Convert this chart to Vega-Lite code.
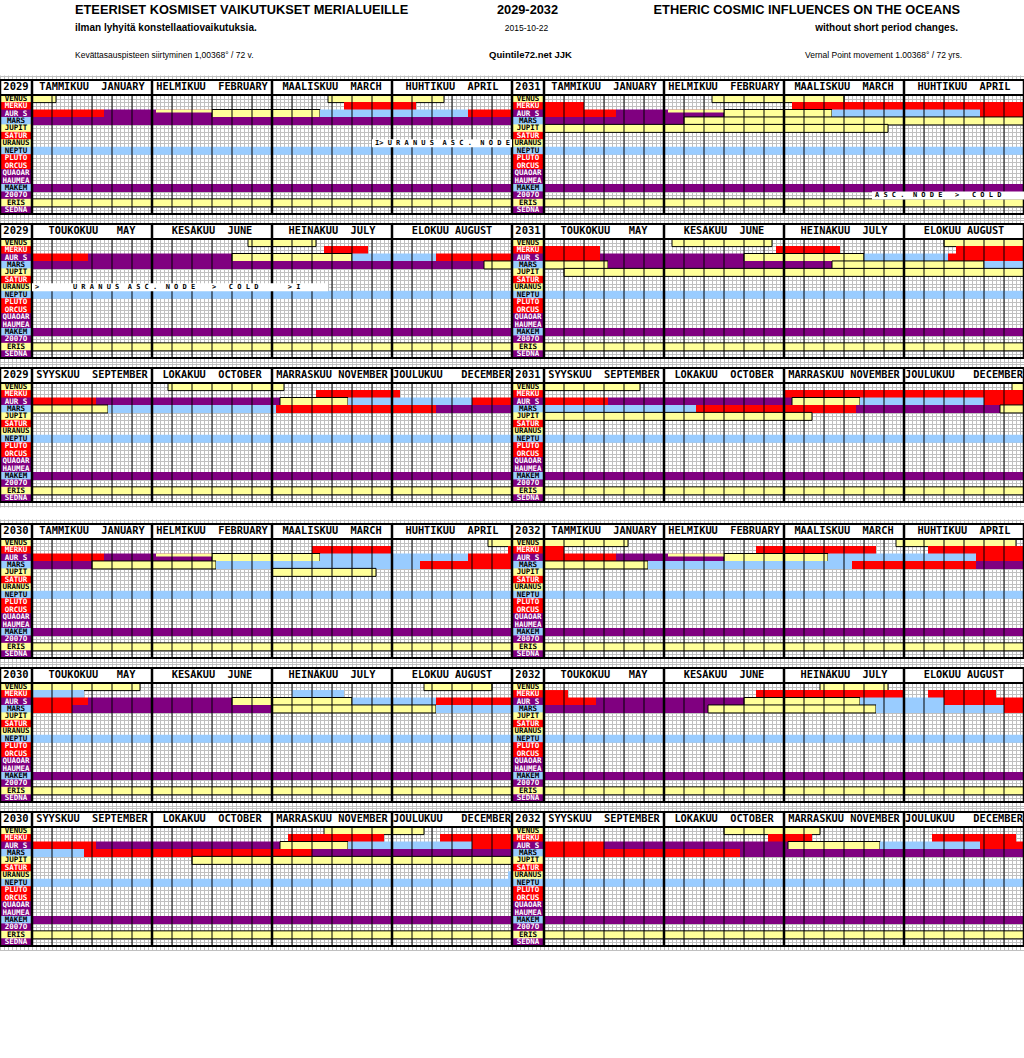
{
"$schema":"https://vega.github.io/schema/vega-lite/v6.json",
"padding":0,"background":"white","bounds":"flush","align":"each","columns":2,"spacing":0,
"datasets":{
"titles":[
{"col":"L","line":1,"txt":"ETEERISET KOSMISET VAIKUTUKSET MERIALUEILLE"},
{"col":"C","line":1,"txt":"2029-2032"},
{"col":"R","line":1,"txt":"ETHERIC COSMIC INFLUENCES ON THE OCEANS"},
{"col":"L","line":2,"txt":"ilman lyhyitä konstellaatiovaikutuksia."},
{"col":"C","line":2,"txt":"2015-10-22"},
{"col":"R","line":2,"txt":"without short period changes."},
{"col":"L","line":3,"txt":"Kevättasauspisteen siirtyminen 1,00368° / 72 v."},
{"col":"C","line":3,"txt":"Quintile72.net  JJK"},
{"col":"R","line":3,"txt":"Vernal Point movement 1.00368° / 72 yrs."}],
"planets":[
{"p":"VENUS","i":0,"k":"Y"},{"p":"MERKURIUS","i":1,"k":"R"},{"p":"AUR SUN","i":2,"k":"P"},{"p":"MARS","i":3,"k":"B"},{"p":"JUPITER","i":4,"k":"Y"},{"p":"SATURNUS","i":5,"k":"R"},{"p":"URANUS","i":6,"k":"Y"},{"p":"NEPTUNUS","i":7,"k":"B"},{"p":"PLUTO","i":8,"k":"R"},{"p":"ORCUS","i":9,"k":"R"},{"p":"QUAOAR","i":10,"k":"P"},{"p":"HAUMEA","i":11,"k":"P"},{"p":"MAKEMAKE","i":12,"k":"B"},{"p":"2007OR10","i":13,"k":"P"},{"p":"ERIS","i":14,"k":"Y"},{"p":"SEDNA","i":15,"k":"P"}],
"months":[
{"t":1,"m":15,"n":"TAMMIKUU\u00a0\u00a0JANUARY"},{"t":1,"m":45,"n":"HELMIKUU\u00a0\u00a0FEBRUARY"},{"t":1,"m":75,"n":"MAALISKUU\u00a0\u00a0MARCH"},{"t":1,"m":105,"n":"HUHTIKUU\u00a0\u00a0APRIL"},
{"t":2,"m":15,"n":"TOUKOKUU\u00a0\u00a0\u00a0MAY"},{"t":2,"m":45,"n":"KESÄKUU\u00a0\u00a0JUNE"},{"t":2,"m":75,"n":"HEINÄKUU\u00a0\u00a0JULY"},{"t":2,"m":105,"n":"ELOKUU\u00a0AUGUST"},
{"t":3,"m":15,"n":"SYYSKUU\u00a0\u00a0SEPTEMBER"},{"t":3,"m":45,"n":"LOKAKUU\u00a0\u00a0OCTOBER"},{"t":3,"m":75,"n":"MARRASKUU\u00a0NOVEMBER"},{"t":3,"m":105,"n":"JOULUKUU\u00a0\u00a0\u00a0DECEMBER"}],
"d5":[{"d":5},{"d":10},{"d":15},{"d":20},{"d":25},{"d":35},{"d":40},{"d":45},{"d":50},{"d":55},{"d":65},{"d":70},{"d":75},{"d":80},{"d":85},{"d":95},{"d":100},{"d":105},{"d":110},{"d":115}],
"vb":[{"d":-8},{"d":0},{"d":30},{"d":60},{"d":90},{"d":120}],
"hb":[{"d":-2.5},{"d":-0.5},{"d":15.5}],
"notes":[
{"yr":2029,"t":1,"p":"URANUS","s":85,"e":120,"txt":"I>\u00a0U\u00a0R\u00a0A\u00a0N\u00a0U\u00a0S\u00a0\u00a0A\u00a0S\u00a0C\u00a0.\u00a0\u00a0N\u00a0O\u00a0D\u00a0E"},
{"yr":2029,"t":2,"p":"URANUS","s":0,"e":74,"txt":"\u00a0\u00a0\u00a0\u00a0\u00a0\u00a0>\u00a0\u00a0\u00a0\u00a0\u00a0\u00a0\u00a0\u00a0U\u00a0R\u00a0A\u00a0N\u00a0U\u00a0S\u00a0\u00a0A\u00a0S\u00a0C\u00a0.\u00a0\u00a0N\u00a0O\u00a0D\u00a0E\u00a0\u00a0\u00a0\u00a0>\u00a0\u00a0\u00a0C\u00a0O\u00a0L\u00a0D\u00a0\u00a0\u00a0\u00a0\u00a0\u00a0\u00a0>\u00a0I"},
{"yr":2031,"t":1,"p":"2007OR10","s":82,"e":120,"txt":"A\u00a0S\u00a0C\u00a0.\u00a0\u00a0N\u00a0O\u00a0D\u00a0E\u00a0\u00a0\u00a0>\u00a0\u00a0\u00a0C\u00a0O\u00a0L\u00a0D"}],
"bars":[
{"yr":2029,"t":1,"p":"VENUS","s":0,"e":6,"c":"Y"},
{"yr":2029,"t":1,"p":"VENUS","s":74,"e":103,"c":"Y"},
{"yr":2029,"t":1,"p":"MERKURIUS","s":78,"e":96,"c":"R"},
{"yr":2029,"t":1,"p":"AUR SUN","s":0,"e":18,"c":"R"},
{"yr":2029,"t":1,"p":"AUR SUN","s":18,"e":45,"c":"P"},
{"yr":2029,"t":1,"p":"AUR SUN","s":31,"e":45,"c":"Y","h":"t"},
{"yr":2029,"t":1,"p":"AUR SUN","s":45,"e":72,"c":"Y"},
{"yr":2029,"t":1,"p":"AUR SUN","s":72,"e":109,"c":"B"},
{"yr":2029,"t":1,"p":"AUR SUN","s":109,"e":120,"c":"R"},
{"yr":2029,"t":1,"p":"MARS","s":0,"e":120,"c":"P"},
{"yr":2029,"t":1,"p":"NEPTUNUS","s":0,"e":120,"c":"B"},
{"yr":2029,"t":1,"p":"MAKEMAKE","s":0,"e":120,"c":"P"},
{"yr":2029,"t":1,"p":"ERIS","s":0,"e":120,"c":"Y"},
{"yr":2029,"t":2,"p":"VENUS","s":54,"e":71,"c":"Y"},
{"yr":2029,"t":2,"p":"MERKURIUS","s":73,"e":84,"c":"R"},
{"yr":2029,"t":2,"p":"AUR SUN","s":0,"e":14,"c":"R"},
{"yr":2029,"t":2,"p":"AUR SUN","s":14,"e":50,"c":"P"},
{"yr":2029,"t":2,"p":"AUR SUN","s":50,"e":80,"c":"Y"},
{"yr":2029,"t":2,"p":"AUR SUN","s":80,"e":101,"c":"B"},
{"yr":2029,"t":2,"p":"AUR SUN","s":101,"e":120,"c":"R"},
{"yr":2029,"t":2,"p":"MARS","s":0,"e":113,"c":"P"},
{"yr":2029,"t":2,"p":"MARS","s":113,"e":120,"c":"Y"},
{"yr":2029,"t":2,"p":"NEPTUNUS","s":0,"e":120,"c":"B"},
{"yr":2029,"t":2,"p":"MAKEMAKE","s":0,"e":120,"c":"P"},
{"yr":2029,"t":2,"p":"ERIS","s":0,"e":120,"c":"Y"},
{"yr":2029,"t":3,"p":"VENUS","s":34,"e":63,"c":"Y"},
{"yr":2029,"t":3,"p":"MERKURIUS","s":71,"e":92,"c":"R"},
{"yr":2029,"t":3,"p":"AUR SUN","s":0,"e":16,"c":"R"},
{"yr":2029,"t":3,"p":"AUR SUN","s":16,"e":62,"c":"P"},
{"yr":2029,"t":3,"p":"AUR SUN","s":62,"e":79,"c":"Y"},
{"yr":2029,"t":3,"p":"AUR SUN","s":79,"e":110,"c":"B"},
{"yr":2029,"t":3,"p":"AUR SUN","s":110,"e":120,"c":"R"},
{"yr":2029,"t":3,"p":"MARS","s":0,"e":19,"c":"Y"},
{"yr":2029,"t":3,"p":"MARS","s":19,"e":61,"c":"B"},
{"yr":2029,"t":3,"p":"MARS","s":61,"e":101,"c":"R"},
{"yr":2029,"t":3,"p":"MARS","s":101,"e":120,"c":"P"},
{"yr":2029,"t":3,"p":"NEPTUNUS","s":0,"e":120,"c":"B"},
{"yr":2029,"t":3,"p":"MAKEMAKE","s":0,"e":120,"c":"P"},
{"yr":2029,"t":3,"p":"ERIS","s":0,"e":120,"c":"Y"},
{"yr":2030,"t":1,"p":"VENUS","s":114,"e":120,"c":"Y"},
{"yr":2030,"t":1,"p":"MERKURIUS","s":70,"e":90,"c":"R"},
{"yr":2030,"t":1,"p":"MERKURIUS","s":119,"e":120,"c":"R"},
{"yr":2030,"t":1,"p":"AUR SUN","s":0,"e":18,"c":"R"},
{"yr":2030,"t":1,"p":"AUR SUN","s":18,"e":45,"c":"P"},
{"yr":2030,"t":1,"p":"AUR SUN","s":31,"e":45,"c":"Y","h":"t"},
{"yr":2030,"t":1,"p":"AUR SUN","s":45,"e":72,"c":"Y"},
{"yr":2030,"t":1,"p":"AUR SUN","s":72,"e":109,"c":"B"},
{"yr":2030,"t":1,"p":"AUR SUN","s":109,"e":120,"c":"R"},
{"yr":2030,"t":1,"p":"MARS","s":0,"e":15,"c":"P"},
{"yr":2030,"t":1,"p":"MARS","s":15,"e":46,"c":"Y"},
{"yr":2030,"t":1,"p":"MARS","s":46,"e":97,"c":"B"},
{"yr":2030,"t":1,"p":"MARS","s":97,"e":120,"c":"R"},
{"yr":2030,"t":1,"p":"JUPITER","s":60,"e":86,"c":"Y"},
{"yr":2030,"t":1,"p":"NEPTUNUS","s":0,"e":120,"c":"B"},
{"yr":2030,"t":1,"p":"MAKEMAKE","s":0,"e":120,"c":"P"},
{"yr":2030,"t":1,"p":"ERIS","s":0,"e":120,"c":"Y"},
{"yr":2030,"t":2,"p":"VENUS","s":0,"e":27,"c":"Y"},
{"yr":2030,"t":2,"p":"VENUS","s":98,"e":115,"c":"Y"},
{"yr":2030,"t":2,"p":"MERKURIUS","s":0,"e":13,"c":"B"},
{"yr":2030,"t":2,"p":"MERKURIUS","s":65,"e":78,"c":"B"},
{"yr":2030,"t":2,"p":"AUR SUN","s":0,"e":14,"c":"R"},
{"yr":2030,"t":2,"p":"AUR SUN","s":14,"e":50,"c":"P"},
{"yr":2030,"t":2,"p":"AUR SUN","s":50,"e":80,"c":"Y"},
{"yr":2030,"t":2,"p":"AUR SUN","s":80,"e":101,"c":"B"},
{"yr":2030,"t":2,"p":"AUR SUN","s":101,"e":120,"c":"R"},
{"yr":2030,"t":2,"p":"MARS","s":0,"e":10,"c":"R"},
{"yr":2030,"t":2,"p":"MARS","s":10,"e":60,"c":"P"},
{"yr":2030,"t":2,"p":"MARS","s":60,"e":101,"c":"Y"},
{"yr":2030,"t":2,"p":"MARS","s":101,"e":120,"c":"B"},
{"yr":2030,"t":2,"p":"NEPTUNUS","s":0,"e":120,"c":"B"},
{"yr":2030,"t":2,"p":"MAKEMAKE","s":0,"e":120,"c":"P"},
{"yr":2030,"t":2,"p":"ERIS","s":0,"e":120,"c":"Y"},
{"yr":2030,"t":3,"p":"VENUS","s":73,"e":98,"c":"Y"},
{"yr":2030,"t":3,"p":"MERKURIUS","s":64,"e":88,"c":"R"},
{"yr":2030,"t":3,"p":"MERKURIUS","s":102,"e":120,"c":"R"},
{"yr":2030,"t":3,"p":"AUR SUN","s":0,"e":16,"c":"R"},
{"yr":2030,"t":3,"p":"AUR SUN","s":16,"e":62,"c":"P"},
{"yr":2030,"t":3,"p":"AUR SUN","s":62,"e":79,"c":"Y"},
{"yr":2030,"t":3,"p":"AUR SUN","s":79,"e":110,"c":"B"},
{"yr":2030,"t":3,"p":"AUR SUN","s":110,"e":120,"c":"R"},
{"yr":2030,"t":3,"p":"MARS","s":0,"e":13,"c":"B"},
{"yr":2030,"t":3,"p":"MARS","s":13,"e":70,"c":"R"},
{"yr":2030,"t":3,"p":"MARS","s":70,"e":120,"c":"P"},
{"yr":2030,"t":3,"p":"JUPITER","s":40,"e":120,"c":"Y"},
{"yr":2030,"t":3,"p":"URANUS","s":119,"e":120,"c":"B"},
{"yr":2030,"t":3,"p":"NEPTUNUS","s":0,"e":120,"c":"B"},
{"yr":2030,"t":3,"p":"MAKEMAKE","s":0,"e":120,"c":"P"},
{"yr":2030,"t":3,"p":"ERIS","s":0,"e":120,"c":"Y"},
{"yr":2031,"t":1,"p":"VENUS","s":42,"e":75,"c":"Y"},
{"yr":2031,"t":1,"p":"MERKURIUS","s":0,"e":10,"c":"R"},
{"yr":2031,"t":1,"p":"MERKURIUS","s":62,"e":120,"c":"R"},
{"yr":2031,"t":1,"p":"AUR SUN","s":0,"e":18,"c":"R"},
{"yr":2031,"t":1,"p":"AUR SUN","s":18,"e":45,"c":"P"},
{"yr":2031,"t":1,"p":"AUR SUN","s":31,"e":45,"c":"Y","h":"t"},
{"yr":2031,"t":1,"p":"AUR SUN","s":45,"e":72,"c":"Y"},
{"yr":2031,"t":1,"p":"AUR SUN","s":72,"e":109,"c":"B"},
{"yr":2031,"t":1,"p":"AUR SUN","s":109,"e":120,"c":"R"},
{"yr":2031,"t":1,"p":"MARS","s":0,"e":35,"c":"P"},
{"yr":2031,"t":1,"p":"MARS","s":35,"e":120,"c":"Y"},
{"yr":2031,"t":1,"p":"JUPITER","s":0,"e":86,"c":"Y"},
{"yr":2031,"t":1,"p":"NEPTUNUS","s":0,"e":120,"c":"B"},
{"yr":2031,"t":1,"p":"MAKEMAKE","s":0,"e":120,"c":"P"},
{"yr":2031,"t":1,"p":"ERIS","s":0,"e":120,"c":"Y"},
{"yr":2031,"t":2,"p":"VENUS","s":32,"e":57,"c":"Y"},
{"yr":2031,"t":2,"p":"VENUS","s":100,"e":120,"c":"Y"},
{"yr":2031,"t":2,"p":"MERKURIUS","s":0,"e":14,"c":"R"},
{"yr":2031,"t":2,"p":"MERKURIUS","s":58,"e":74,"c":"R"},
{"yr":2031,"t":2,"p":"MERKURIUS","s":103,"e":120,"c":"R"},
{"yr":2031,"t":2,"p":"AUR SUN","s":0,"e":14,"c":"R"},
{"yr":2031,"t":2,"p":"AUR SUN","s":14,"e":50,"c":"P"},
{"yr":2031,"t":2,"p":"AUR SUN","s":50,"e":80,"c":"Y"},
{"yr":2031,"t":2,"p":"AUR SUN","s":80,"e":101,"c":"B"},
{"yr":2031,"t":2,"p":"AUR SUN","s":101,"e":120,"c":"R"},
{"yr":2031,"t":2,"p":"MARS","s":0,"e":16,"c":"Y"},
{"yr":2031,"t":2,"p":"MARS","s":16,"e":72,"c":"P"},
{"yr":2031,"t":2,"p":"MARS","s":72,"e":110,"c":"Y"},
{"yr":2031,"t":2,"p":"MARS","s":110,"e":120,"c":"B"},
{"yr":2031,"t":2,"p":"JUPITER","s":5,"e":120,"c":"Y"},
{"yr":2031,"t":2,"p":"NEPTUNUS","s":0,"e":120,"c":"B"},
{"yr":2031,"t":2,"p":"MAKEMAKE","s":0,"e":120,"c":"P"},
{"yr":2031,"t":2,"p":"ERIS","s":0,"e":120,"c":"Y"},
{"yr":2031,"t":3,"p":"VENUS","s":0,"e":24,"c":"Y"},
{"yr":2031,"t":3,"p":"VENUS","s":117,"e":120,"c":"Y"},
{"yr":2031,"t":3,"p":"MERKURIUS","s":60,"e":120,"c":"R"},
{"yr":2031,"t":3,"p":"AUR SUN","s":0,"e":16,"c":"R"},
{"yr":2031,"t":3,"p":"AUR SUN","s":16,"e":62,"c":"P"},
{"yr":2031,"t":3,"p":"AUR SUN","s":62,"e":79,"c":"Y"},
{"yr":2031,"t":3,"p":"AUR SUN","s":79,"e":110,"c":"B"},
{"yr":2031,"t":3,"p":"AUR SUN","s":110,"e":120,"c":"R"},
{"yr":2031,"t":3,"p":"MARS","s":0,"e":38,"c":"B"},
{"yr":2031,"t":3,"p":"MARS","s":38,"e":78,"c":"R"},
{"yr":2031,"t":3,"p":"MARS","s":78,"e":114,"c":"P"},
{"yr":2031,"t":3,"p":"MARS","s":114,"e":120,"c":"Y"},
{"yr":2031,"t":3,"p":"JUPITER","s":0,"e":67,"c":"Y"},
{"yr":2031,"t":3,"p":"NEPTUNUS","s":0,"e":120,"c":"B"},
{"yr":2031,"t":3,"p":"MAKEMAKE","s":0,"e":120,"c":"P"},
{"yr":2031,"t":3,"p":"ERIS","s":0,"e":120,"c":"Y"},
{"yr":2032,"t":1,"p":"VENUS","s":0,"e":21,"c":"Y"},
{"yr":2032,"t":1,"p":"VENUS","s":88,"e":118,"c":"Y"},
{"yr":2032,"t":1,"p":"MERKURIUS","s":0,"e":5,"c":"R"},
{"yr":2032,"t":1,"p":"MERKURIUS","s":53,"e":83,"c":"R"},
{"yr":2032,"t":1,"p":"MERKURIUS","s":96,"e":120,"c":"R"},
{"yr":2032,"t":1,"p":"AUR SUN","s":0,"e":18,"c":"R"},
{"yr":2032,"t":1,"p":"AUR SUN","s":18,"e":45,"c":"P"},
{"yr":2032,"t":1,"p":"AUR SUN","s":31,"e":45,"c":"Y","h":"t"},
{"yr":2032,"t":1,"p":"AUR SUN","s":45,"e":71,"c":"Y"},
{"yr":2032,"t":1,"p":"AUR SUN","s":71,"e":108,"c":"B"},
{"yr":2032,"t":1,"p":"AUR SUN","s":108,"e":120,"c":"R"},
{"yr":2032,"t":1,"p":"MARS","s":0,"e":26,"c":"Y"},
{"yr":2032,"t":1,"p":"MARS","s":26,"e":77,"c":"B"},
{"yr":2032,"t":1,"p":"MARS","s":77,"e":108,"c":"R"},
{"yr":2032,"t":1,"p":"MARS","s":108,"e":120,"c":"P"},
{"yr":2032,"t":1,"p":"NEPTUNUS","s":0,"e":120,"c":"B"},
{"yr":2032,"t":1,"p":"MAKEMAKE","s":0,"e":120,"c":"P"},
{"yr":2032,"t":1,"p":"ERIS","s":0,"e":120,"c":"Y"},
{"yr":2032,"t":2,"p":"VENUS","s":69,"e":86,"c":"Y"},
{"yr":2032,"t":2,"p":"MERKURIUS","s":0,"e":6,"c":"R"},
{"yr":2032,"t":2,"p":"MERKURIUS","s":53,"e":90,"c":"R"},
{"yr":2032,"t":2,"p":"MERKURIUS","s":96,"e":113,"c":"R"},
{"yr":2032,"t":2,"p":"AUR SUN","s":0,"e":13,"c":"R"},
{"yr":2032,"t":2,"p":"AUR SUN","s":13,"e":50,"c":"P"},
{"yr":2032,"t":2,"p":"AUR SUN","s":50,"e":79,"c":"Y"},
{"yr":2032,"t":2,"p":"AUR SUN","s":79,"e":100,"c":"B"},
{"yr":2032,"t":2,"p":"AUR SUN","s":100,"e":120,"c":"R"},
{"yr":2032,"t":2,"p":"MARS","s":0,"e":41,"c":"P"},
{"yr":2032,"t":2,"p":"MARS","s":41,"e":83,"c":"Y"},
{"yr":2032,"t":2,"p":"MARS","s":83,"e":115,"c":"B"},
{"yr":2032,"t":2,"p":"MARS","s":115,"e":120,"c":"R"},
{"yr":2032,"t":2,"p":"NEPTUNUS","s":0,"e":120,"c":"B"},
{"yr":2032,"t":2,"p":"MAKEMAKE","s":0,"e":120,"c":"P"},
{"yr":2032,"t":2,"p":"ERIS","s":0,"e":120,"c":"Y"},
{"yr":2032,"t":3,"p":"VENUS","s":45,"e":69,"c":"Y"},
{"yr":2032,"t":3,"p":"MERKURIUS","s":56,"e":67,"c":"R"},
{"yr":2032,"t":3,"p":"MERKURIUS","s":97,"e":118,"c":"R"},
{"yr":2032,"t":3,"p":"AUR SUN","s":0,"e":15,"c":"R"},
{"yr":2032,"t":3,"p":"AUR SUN","s":15,"e":61,"c":"P"},
{"yr":2032,"t":3,"p":"AUR SUN","s":61,"e":84,"c":"Y"},
{"yr":2032,"t":3,"p":"AUR SUN","s":84,"e":109,"c":"B"},
{"yr":2032,"t":3,"p":"AUR SUN","s":109,"e":120,"c":"R"},
{"yr":2032,"t":3,"p":"MARS","s":0,"e":49,"c":"R"},
{"yr":2032,"t":3,"p":"MARS","s":49,"e":120,"c":"P"},
{"yr":2032,"t":3,"p":"NEPTUNUS","s":0,"e":120,"c":"B"},
{"yr":2032,"t":3,"p":"MAKEMAKE","s":0,"e":120,"c":"P"},
{"yr":2032,"t":3,"p":"ERIS","s":0,"e":120,"c":"Y"}]
},
"concat":[
{"width":512,"height":75,"data":{"name":"titles"},
 "encoding":{"x":{"field":"col","type":"nominal","scale":{"type":"point","domain":["L","C","R"],"range":[75,960],"padding":0},"axis":null},
  "y":{"field":"line","type":"ordinal","scale":{"type":"point","domain":[1,2,3],"range":[9.5,55],"padding":0},"axis":null},
  "text":{"field":"txt"}},
 "layer":[
  {"transform":[{"filter":"datum.line==1&&datum.col=='L'"}],"mark":{"type":"text","align":"left","baseline":"middle","font":"Liberation Sans","fontSize":12.8,"fontWeight":"bold","color":"black"}},
  {"transform":[{"filter":"datum.line==1&&datum.col=='C'"}],"mark":{"type":"text","align":"center","dx":10,"baseline":"middle","font":"Liberation Sans","fontSize":12.8,"fontWeight":"bold","color":"black"}},
  {"transform":[{"filter":"datum.line==1&&datum.col=='R'"}],"mark":{"type":"text","align":"right","baseline":"middle","font":"Liberation Sans","fontSize":12.8,"fontWeight":"bold","color":"black"}},
  {"transform":[{"filter":"datum.line==2&&datum.col=='L'"}],"mark":{"type":"text","align":"left","dy":-4,"baseline":"middle","font":"Liberation Sans","fontSize":10,"fontWeight":"bold","color":"black"}},
  {"transform":[{"filter":"datum.line==2&&datum.col=='C'"}],"mark":{"type":"text","align":"center","dx":9,"dy":-4,"baseline":"middle","font":"Liberation Sans","fontSize":8.5,"color":"black"}},
  {"transform":[{"filter":"datum.line==2&&datum.col=='R'"}],"mark":{"type":"text","align":"right","dx":-2,"dy":-4,"baseline":"middle","font":"Liberation Sans","fontSize":10,"fontWeight":"bold","color":"black"}},
  {"transform":[{"filter":"datum.line==3&&datum.col=='L'"}],"mark":{"type":"text","align":"left","baseline":"middle","font":"Liberation Sans","fontSize":8.5,"color":"black"}},
  {"transform":[{"filter":"datum.line==3&&datum.col=='C'"}],"mark":{"type":"text","align":"center","dx":13,"baseline":"middle","font":"Liberation Sans","fontSize":9.5,"fontWeight":"bold","color":"black"}},
  {"transform":[{"filter":"datum.line==3&&datum.col=='R'"}],"mark":{"type":"text","align":"right","dx":2,"baseline":"middle","font":"Liberation Sans","fontSize":8.5,"color":"black"}}
 ]},
{"width":512,"height":75,"data":{"values":[{}]},"mark":{"type":"text","text":""},"encoding":{}},
{"width":512,"height":144,"layer":[
{"data":{"values":[{}]},"mark":{"type":"rect","fill":"white"},"encoding":{"x":{"datum":-8,"type":"quantitative","scale":{"domain":[-8,120],"nice":false,"zero":false},"axis":{"title":null}},"x2":{"datum":120},"y":{"datum":-2.5,"type":"quantitative","scale":{"domain":[-2.5,15.5],"nice":false,"zero":false,"reverse":true},"axis":{"title":null}},"y2":{"datum":-0.5}}},
{"data":{"name":"bars"},"transform":[{"filter":"datum.yr==2029&&datum.t==1&&!datum.h"},{"lookup":"p","from":{"data":{"name":"planets"},"key":"p","fields":["i"]}}],"mark":{"type":"bar","height":8,"strokeWidth":1},"encoding":{"x":{"field":"s","type":"quantitative"},"x2":{"field":"e"},"y":{"field":"i","type":"quantitative"},"fill":{"field":"c","type":"nominal","scale":{"domain":["Y","R","P","B"],"range":["#ffff99","#ff0000","#800080","#99ccff"]},"legend":null},"stroke":{"condition":{"test":"datum.c=='Y'","value":"black"},"value":"transparent"}}},
{"data":{"name":"bars"},"transform":[{"filter":"datum.yr==2029&&datum.t==1&&datum.h=='t'"},{"lookup":"p","from":{"data":{"name":"planets"},"key":"p","fields":["i"]}}],"mark":{"type":"bar","height":3,"yOffset":-2.5},"encoding":{"x":{"field":"s","type":"quantitative"},"x2":{"field":"e"},"y":{"field":"i","type":"quantitative"},"fill":{"field":"c","type":"nominal","scale":{"domain":["Y","R","P","B"],"range":["#ffff99","#ff0000","#800080","#99ccff"]},"legend":null}}},
{"data":{"name":"planets"},"mark":{"type":"bar","height":8},"encoding":{"x":{"datum":-8,"type":"quantitative"},"x2":{"datum":0},"y":{"field":"i","type":"quantitative"},"fill":{"field":"k","type":"nominal","scale":{"domain":["Y","R","P","B"],"range":["#ffff99","#ff0000","#800080","#99ccff"]},"legend":null}}},
{"data":{"name":"planets"},"mark":{"type":"text","style":"pl"},"encoding":{"x":{"datum":-4,"type":"quantitative"},"y":{"field":"i","type":"quantitative"},"text":{"field":"p"},"fill":{"condition":{"test":"datum.k=='R'||datum.k=='P'","value":"white"},"value":"black"}}},
{"data":{"values":[{}]},"mark":{"type":"text","style":"yr","text":"2029"},"encoding":{"x":{"datum":-4,"type":"quantitative"},"y":{"datum":-1.5,"type":"quantitative"}}},
{"data":{"name":"months"},"transform":[{"filter":"datum.t==1"}],"mark":{"type":"text","style":"mn"},"encoding":{"x":{"field":"m","type":"quantitative"},"y":{"datum":-1.5,"type":"quantitative"},"text":{"field":"n"}}},
{"data":{"name":"d5"},"mark":{"type":"rule","color":"black","strokeWidth":1},"encoding":{"x":{"field":"d","type":"quantitative"},"y":{"datum":-0.5,"type":"quantitative"},"y2":{"datum":15.5}}},
{"data":{"name":"vb"},"mark":{"type":"rule","color":"black","strokeWidth":2.5,"clip":true},"encoding":{"x":{"field":"d","type":"quantitative"},"y":{"datum":-2.5,"type":"quantitative"},"y2":{"datum":15.5}}},
{"data":{"name":"hb"},"mark":{"type":"rule","color":"black","strokeWidth":2,"clip":true},"encoding":{"y":{"field":"d","type":"quantitative"}}},
{"data":{"name":"notes"},"transform":[{"filter":"datum.yr==2029&&datum.t==1"},{"lookup":"p","from":{"data":{"name":"planets"},"key":"p","fields":["i"]}}],"mark":{"type":"bar","height":8,"fill":"white"},"encoding":{"x":{"field":"s","type":"quantitative"},"x2":{"field":"e"},"y":{"field":"i","type":"quantitative"}}},
{"data":{"name":"notes"},"transform":[{"filter":"datum.yr==2029&&datum.t==1"},{"lookup":"p","from":{"data":{"name":"planets"},"key":"p","fields":["i"]}}],"mark":{"type":"text","style":"nt"},"encoding":{"x":{"field":"s","type":"quantitative"},"y":{"field":"i","type":"quantitative"},"text":{"field":"txt"}}}
]},
{"width":512,"height":144,"layer":[
{"data":{"values":[{}]},"mark":{"type":"rect","fill":"white"},"encoding":{"x":{"datum":-8,"type":"quantitative","scale":{"domain":[-8,120],"nice":false,"zero":false},"axis":{"title":null}},"x2":{"datum":120},"y":{"datum":-2.5,"type":"quantitative","scale":{"domain":[-2.5,15.5],"nice":false,"zero":false,"reverse":true},"axis":{"title":null}},"y2":{"datum":-0.5}}},
{"data":{"name":"bars"},"transform":[{"filter":"datum.yr==2031&&datum.t==1&&!datum.h"},{"lookup":"p","from":{"data":{"name":"planets"},"key":"p","fields":["i"]}}],"mark":{"type":"bar","height":8,"strokeWidth":1},"encoding":{"x":{"field":"s","type":"quantitative"},"x2":{"field":"e"},"y":{"field":"i","type":"quantitative"},"fill":{"field":"c","type":"nominal","scale":{"domain":["Y","R","P","B"],"range":["#ffff99","#ff0000","#800080","#99ccff"]},"legend":null},"stroke":{"condition":{"test":"datum.c=='Y'","value":"black"},"value":"transparent"}}},
{"data":{"name":"bars"},"transform":[{"filter":"datum.yr==2031&&datum.t==1&&datum.h=='t'"},{"lookup":"p","from":{"data":{"name":"planets"},"key":"p","fields":["i"]}}],"mark":{"type":"bar","height":3,"yOffset":-2.5},"encoding":{"x":{"field":"s","type":"quantitative"},"x2":{"field":"e"},"y":{"field":"i","type":"quantitative"},"fill":{"field":"c","type":"nominal","scale":{"domain":["Y","R","P","B"],"range":["#ffff99","#ff0000","#800080","#99ccff"]},"legend":null}}},
{"data":{"name":"planets"},"mark":{"type":"bar","height":8},"encoding":{"x":{"datum":-8,"type":"quantitative"},"x2":{"datum":0},"y":{"field":"i","type":"quantitative"},"fill":{"field":"k","type":"nominal","scale":{"domain":["Y","R","P","B"],"range":["#ffff99","#ff0000","#800080","#99ccff"]},"legend":null}}},
{"data":{"name":"planets"},"mark":{"type":"text","style":"pl"},"encoding":{"x":{"datum":-4,"type":"quantitative"},"y":{"field":"i","type":"quantitative"},"text":{"field":"p"},"fill":{"condition":{"test":"datum.k=='R'||datum.k=='P'","value":"white"},"value":"black"}}},
{"data":{"values":[{}]},"mark":{"type":"text","style":"yr","text":"2031"},"encoding":{"x":{"datum":-4,"type":"quantitative"},"y":{"datum":-1.5,"type":"quantitative"}}},
{"data":{"name":"months"},"transform":[{"filter":"datum.t==1"}],"mark":{"type":"text","style":"mn"},"encoding":{"x":{"field":"m","type":"quantitative"},"y":{"datum":-1.5,"type":"quantitative"},"text":{"field":"n"}}},
{"data":{"name":"d5"},"mark":{"type":"rule","color":"black","strokeWidth":1},"encoding":{"x":{"field":"d","type":"quantitative"},"y":{"datum":-0.5,"type":"quantitative"},"y2":{"datum":15.5}}},
{"data":{"name":"vb"},"mark":{"type":"rule","color":"black","strokeWidth":2.5,"clip":true},"encoding":{"x":{"field":"d","type":"quantitative"},"y":{"datum":-2.5,"type":"quantitative"},"y2":{"datum":15.5}}},
{"data":{"name":"hb"},"mark":{"type":"rule","color":"black","strokeWidth":2,"clip":true},"encoding":{"y":{"field":"d","type":"quantitative"}}},
{"data":{"name":"notes"},"transform":[{"filter":"datum.yr==2031&&datum.t==1"},{"lookup":"p","from":{"data":{"name":"planets"},"key":"p","fields":["i"]}}],"mark":{"type":"bar","height":8,"fill":"white"},"encoding":{"x":{"field":"s","type":"quantitative"},"x2":{"field":"e"},"y":{"field":"i","type":"quantitative"}}},
{"data":{"name":"notes"},"transform":[{"filter":"datum.yr==2031&&datum.t==1"},{"lookup":"p","from":{"data":{"name":"planets"},"key":"p","fields":["i"]}}],"mark":{"type":"text","style":"nt"},"encoding":{"x":{"field":"s","type":"quantitative"},"y":{"field":"i","type":"quantitative"},"text":{"field":"txt"}}}
]},
{"width":512,"height":144,"layer":[
{"data":{"values":[{}]},"mark":{"type":"rect","fill":"white"},"encoding":{"x":{"datum":-8,"type":"quantitative","scale":{"domain":[-8,120],"nice":false,"zero":false},"axis":{"title":null}},"x2":{"datum":120},"y":{"datum":-2.5,"type":"quantitative","scale":{"domain":[-2.5,15.5],"nice":false,"zero":false,"reverse":true},"axis":{"title":null}},"y2":{"datum":-0.5}}},
{"data":{"name":"bars"},"transform":[{"filter":"datum.yr==2029&&datum.t==2&&!datum.h"},{"lookup":"p","from":{"data":{"name":"planets"},"key":"p","fields":["i"]}}],"mark":{"type":"bar","height":8,"strokeWidth":1},"encoding":{"x":{"field":"s","type":"quantitative"},"x2":{"field":"e"},"y":{"field":"i","type":"quantitative"},"fill":{"field":"c","type":"nominal","scale":{"domain":["Y","R","P","B"],"range":["#ffff99","#ff0000","#800080","#99ccff"]},"legend":null},"stroke":{"condition":{"test":"datum.c=='Y'","value":"black"},"value":"transparent"}}},
{"data":{"name":"planets"},"mark":{"type":"bar","height":8},"encoding":{"x":{"datum":-8,"type":"quantitative"},"x2":{"datum":0},"y":{"field":"i","type":"quantitative"},"fill":{"field":"k","type":"nominal","scale":{"domain":["Y","R","P","B"],"range":["#ffff99","#ff0000","#800080","#99ccff"]},"legend":null}}},
{"data":{"name":"planets"},"mark":{"type":"text","style":"pl"},"encoding":{"x":{"datum":-4,"type":"quantitative"},"y":{"field":"i","type":"quantitative"},"text":{"field":"p"},"fill":{"condition":{"test":"datum.k=='R'||datum.k=='P'","value":"white"},"value":"black"}}},
{"data":{"values":[{}]},"mark":{"type":"text","style":"yr","text":"2029"},"encoding":{"x":{"datum":-4,"type":"quantitative"},"y":{"datum":-1.5,"type":"quantitative"}}},
{"data":{"name":"months"},"transform":[{"filter":"datum.t==2"}],"mark":{"type":"text","style":"mn"},"encoding":{"x":{"field":"m","type":"quantitative"},"y":{"datum":-1.5,"type":"quantitative"},"text":{"field":"n"}}},
{"data":{"name":"d5"},"mark":{"type":"rule","color":"black","strokeWidth":1},"encoding":{"x":{"field":"d","type":"quantitative"},"y":{"datum":-0.5,"type":"quantitative"},"y2":{"datum":15.5}}},
{"data":{"name":"vb"},"mark":{"type":"rule","color":"black","strokeWidth":2.5,"clip":true},"encoding":{"x":{"field":"d","type":"quantitative"},"y":{"datum":-2.5,"type":"quantitative"},"y2":{"datum":15.5}}},
{"data":{"name":"hb"},"mark":{"type":"rule","color":"black","strokeWidth":2,"clip":true},"encoding":{"y":{"field":"d","type":"quantitative"}}},
{"data":{"name":"notes"},"transform":[{"filter":"datum.yr==2029&&datum.t==2"},{"lookup":"p","from":{"data":{"name":"planets"},"key":"p","fields":["i"]}}],"mark":{"type":"bar","height":8,"fill":"white"},"encoding":{"x":{"field":"s","type":"quantitative"},"x2":{"field":"e"},"y":{"field":"i","type":"quantitative"}}},
{"data":{"name":"notes"},"transform":[{"filter":"datum.yr==2029&&datum.t==2"},{"lookup":"p","from":{"data":{"name":"planets"},"key":"p","fields":["i"]}}],"mark":{"type":"text","style":"nt"},"encoding":{"x":{"field":"s","type":"quantitative"},"y":{"field":"i","type":"quantitative"},"text":{"field":"txt"}}}
]},
{"width":512,"height":144,"layer":[
{"data":{"values":[{}]},"mark":{"type":"rect","fill":"white"},"encoding":{"x":{"datum":-8,"type":"quantitative","scale":{"domain":[-8,120],"nice":false,"zero":false},"axis":{"title":null}},"x2":{"datum":120},"y":{"datum":-2.5,"type":"quantitative","scale":{"domain":[-2.5,15.5],"nice":false,"zero":false,"reverse":true},"axis":{"title":null}},"y2":{"datum":-0.5}}},
{"data":{"name":"bars"},"transform":[{"filter":"datum.yr==2031&&datum.t==2&&!datum.h"},{"lookup":"p","from":{"data":{"name":"planets"},"key":"p","fields":["i"]}}],"mark":{"type":"bar","height":8,"strokeWidth":1},"encoding":{"x":{"field":"s","type":"quantitative"},"x2":{"field":"e"},"y":{"field":"i","type":"quantitative"},"fill":{"field":"c","type":"nominal","scale":{"domain":["Y","R","P","B"],"range":["#ffff99","#ff0000","#800080","#99ccff"]},"legend":null},"stroke":{"condition":{"test":"datum.c=='Y'","value":"black"},"value":"transparent"}}},
{"data":{"name":"planets"},"mark":{"type":"bar","height":8},"encoding":{"x":{"datum":-8,"type":"quantitative"},"x2":{"datum":0},"y":{"field":"i","type":"quantitative"},"fill":{"field":"k","type":"nominal","scale":{"domain":["Y","R","P","B"],"range":["#ffff99","#ff0000","#800080","#99ccff"]},"legend":null}}},
{"data":{"name":"planets"},"mark":{"type":"text","style":"pl"},"encoding":{"x":{"datum":-4,"type":"quantitative"},"y":{"field":"i","type":"quantitative"},"text":{"field":"p"},"fill":{"condition":{"test":"datum.k=='R'||datum.k=='P'","value":"white"},"value":"black"}}},
{"data":{"values":[{}]},"mark":{"type":"text","style":"yr","text":"2031"},"encoding":{"x":{"datum":-4,"type":"quantitative"},"y":{"datum":-1.5,"type":"quantitative"}}},
{"data":{"name":"months"},"transform":[{"filter":"datum.t==2"}],"mark":{"type":"text","style":"mn"},"encoding":{"x":{"field":"m","type":"quantitative"},"y":{"datum":-1.5,"type":"quantitative"},"text":{"field":"n"}}},
{"data":{"name":"d5"},"mark":{"type":"rule","color":"black","strokeWidth":1},"encoding":{"x":{"field":"d","type":"quantitative"},"y":{"datum":-0.5,"type":"quantitative"},"y2":{"datum":15.5}}},
{"data":{"name":"vb"},"mark":{"type":"rule","color":"black","strokeWidth":2.5,"clip":true},"encoding":{"x":{"field":"d","type":"quantitative"},"y":{"datum":-2.5,"type":"quantitative"},"y2":{"datum":15.5}}},
{"data":{"name":"hb"},"mark":{"type":"rule","color":"black","strokeWidth":2,"clip":true},"encoding":{"y":{"field":"d","type":"quantitative"}}}
]},
{"width":512,"height":144,"layer":[
{"data":{"values":[{}]},"mark":{"type":"rect","fill":"white"},"encoding":{"x":{"datum":-8,"type":"quantitative","scale":{"domain":[-8,120],"nice":false,"zero":false},"axis":{"title":null}},"x2":{"datum":120},"y":{"datum":-2.5,"type":"quantitative","scale":{"domain":[-2.5,15.5],"nice":false,"zero":false,"reverse":true},"axis":{"title":null}},"y2":{"datum":-0.5}}},
{"data":{"name":"bars"},"transform":[{"filter":"datum.yr==2029&&datum.t==3&&!datum.h"},{"lookup":"p","from":{"data":{"name":"planets"},"key":"p","fields":["i"]}}],"mark":{"type":"bar","height":8,"strokeWidth":1},"encoding":{"x":{"field":"s","type":"quantitative"},"x2":{"field":"e"},"y":{"field":"i","type":"quantitative"},"fill":{"field":"c","type":"nominal","scale":{"domain":["Y","R","P","B"],"range":["#ffff99","#ff0000","#800080","#99ccff"]},"legend":null},"stroke":{"condition":{"test":"datum.c=='Y'","value":"black"},"value":"transparent"}}},
{"data":{"name":"planets"},"mark":{"type":"bar","height":8},"encoding":{"x":{"datum":-8,"type":"quantitative"},"x2":{"datum":0},"y":{"field":"i","type":"quantitative"},"fill":{"field":"k","type":"nominal","scale":{"domain":["Y","R","P","B"],"range":["#ffff99","#ff0000","#800080","#99ccff"]},"legend":null}}},
{"data":{"name":"planets"},"mark":{"type":"text","style":"pl"},"encoding":{"x":{"datum":-4,"type":"quantitative"},"y":{"field":"i","type":"quantitative"},"text":{"field":"p"},"fill":{"condition":{"test":"datum.k=='R'||datum.k=='P'","value":"white"},"value":"black"}}},
{"data":{"values":[{}]},"mark":{"type":"text","style":"yr","text":"2029"},"encoding":{"x":{"datum":-4,"type":"quantitative"},"y":{"datum":-1.5,"type":"quantitative"}}},
{"data":{"name":"months"},"transform":[{"filter":"datum.t==3"}],"mark":{"type":"text","style":"mn"},"encoding":{"x":{"field":"m","type":"quantitative"},"y":{"datum":-1.5,"type":"quantitative"},"text":{"field":"n"}}},
{"data":{"name":"d5"},"mark":{"type":"rule","color":"black","strokeWidth":1},"encoding":{"x":{"field":"d","type":"quantitative"},"y":{"datum":-0.5,"type":"quantitative"},"y2":{"datum":15.5}}},
{"data":{"name":"vb"},"mark":{"type":"rule","color":"black","strokeWidth":2.5,"clip":true},"encoding":{"x":{"field":"d","type":"quantitative"},"y":{"datum":-2.5,"type":"quantitative"},"y2":{"datum":15.5}}},
{"data":{"name":"hb"},"mark":{"type":"rule","color":"black","strokeWidth":2,"clip":true},"encoding":{"y":{"field":"d","type":"quantitative"}}}
]},
{"width":512,"height":144,"layer":[
{"data":{"values":[{}]},"mark":{"type":"rect","fill":"white"},"encoding":{"x":{"datum":-8,"type":"quantitative","scale":{"domain":[-8,120],"nice":false,"zero":false},"axis":{"title":null}},"x2":{"datum":120},"y":{"datum":-2.5,"type":"quantitative","scale":{"domain":[-2.5,15.5],"nice":false,"zero":false,"reverse":true},"axis":{"title":null}},"y2":{"datum":-0.5}}},
{"data":{"name":"bars"},"transform":[{"filter":"datum.yr==2031&&datum.t==3&&!datum.h"},{"lookup":"p","from":{"data":{"name":"planets"},"key":"p","fields":["i"]}}],"mark":{"type":"bar","height":8,"strokeWidth":1},"encoding":{"x":{"field":"s","type":"quantitative"},"x2":{"field":"e"},"y":{"field":"i","type":"quantitative"},"fill":{"field":"c","type":"nominal","scale":{"domain":["Y","R","P","B"],"range":["#ffff99","#ff0000","#800080","#99ccff"]},"legend":null},"stroke":{"condition":{"test":"datum.c=='Y'","value":"black"},"value":"transparent"}}},
{"data":{"name":"planets"},"mark":{"type":"bar","height":8},"encoding":{"x":{"datum":-8,"type":"quantitative"},"x2":{"datum":0},"y":{"field":"i","type":"quantitative"},"fill":{"field":"k","type":"nominal","scale":{"domain":["Y","R","P","B"],"range":["#ffff99","#ff0000","#800080","#99ccff"]},"legend":null}}},
{"data":{"name":"planets"},"mark":{"type":"text","style":"pl"},"encoding":{"x":{"datum":-4,"type":"quantitative"},"y":{"field":"i","type":"quantitative"},"text":{"field":"p"},"fill":{"condition":{"test":"datum.k=='R'||datum.k=='P'","value":"white"},"value":"black"}}},
{"data":{"values":[{}]},"mark":{"type":"text","style":"yr","text":"2031"},"encoding":{"x":{"datum":-4,"type":"quantitative"},"y":{"datum":-1.5,"type":"quantitative"}}},
{"data":{"name":"months"},"transform":[{"filter":"datum.t==3"}],"mark":{"type":"text","style":"mn"},"encoding":{"x":{"field":"m","type":"quantitative"},"y":{"datum":-1.5,"type":"quantitative"},"text":{"field":"n"}}},
{"data":{"name":"d5"},"mark":{"type":"rule","color":"black","strokeWidth":1},"encoding":{"x":{"field":"d","type":"quantitative"},"y":{"datum":-0.5,"type":"quantitative"},"y2":{"datum":15.5}}},
{"data":{"name":"vb"},"mark":{"type":"rule","color":"black","strokeWidth":2.5,"clip":true},"encoding":{"x":{"field":"d","type":"quantitative"},"y":{"datum":-2.5,"type":"quantitative"},"y2":{"datum":15.5}}},
{"data":{"name":"hb"},"mark":{"type":"rule","color":"black","strokeWidth":2,"clip":true},"encoding":{"y":{"field":"d","type":"quantitative"}}}
]},
{"width":512,"height":11.5,"data":{"values":[{}]},"mark":{"type":"text","text":""},"encoding":{}},
{"width":512,"height":11.5,"data":{"values":[{}]},"mark":{"type":"text","text":""},"encoding":{}},
{"width":512,"height":144,"layer":[
{"data":{"values":[{}]},"mark":{"type":"rect","fill":"white"},"encoding":{"x":{"datum":-8,"type":"quantitative","scale":{"domain":[-8,120],"nice":false,"zero":false},"axis":{"title":null}},"x2":{"datum":120},"y":{"datum":-2.5,"type":"quantitative","scale":{"domain":[-2.5,15.5],"nice":false,"zero":false,"reverse":true},"axis":{"title":null}},"y2":{"datum":-0.5}}},
{"data":{"name":"bars"},"transform":[{"filter":"datum.yr==2030&&datum.t==1&&!datum.h"},{"lookup":"p","from":{"data":{"name":"planets"},"key":"p","fields":["i"]}}],"mark":{"type":"bar","height":8,"strokeWidth":1},"encoding":{"x":{"field":"s","type":"quantitative"},"x2":{"field":"e"},"y":{"field":"i","type":"quantitative"},"fill":{"field":"c","type":"nominal","scale":{"domain":["Y","R","P","B"],"range":["#ffff99","#ff0000","#800080","#99ccff"]},"legend":null},"stroke":{"condition":{"test":"datum.c=='Y'","value":"black"},"value":"transparent"}}},
{"data":{"name":"bars"},"transform":[{"filter":"datum.yr==2030&&datum.t==1&&datum.h=='t'"},{"lookup":"p","from":{"data":{"name":"planets"},"key":"p","fields":["i"]}}],"mark":{"type":"bar","height":3,"yOffset":-2.5},"encoding":{"x":{"field":"s","type":"quantitative"},"x2":{"field":"e"},"y":{"field":"i","type":"quantitative"},"fill":{"field":"c","type":"nominal","scale":{"domain":["Y","R","P","B"],"range":["#ffff99","#ff0000","#800080","#99ccff"]},"legend":null}}},
{"data":{"name":"planets"},"mark":{"type":"bar","height":8},"encoding":{"x":{"datum":-8,"type":"quantitative"},"x2":{"datum":0},"y":{"field":"i","type":"quantitative"},"fill":{"field":"k","type":"nominal","scale":{"domain":["Y","R","P","B"],"range":["#ffff99","#ff0000","#800080","#99ccff"]},"legend":null}}},
{"data":{"name":"planets"},"mark":{"type":"text","style":"pl"},"encoding":{"x":{"datum":-4,"type":"quantitative"},"y":{"field":"i","type":"quantitative"},"text":{"field":"p"},"fill":{"condition":{"test":"datum.k=='R'||datum.k=='P'","value":"white"},"value":"black"}}},
{"data":{"values":[{}]},"mark":{"type":"text","style":"yr","text":"2030"},"encoding":{"x":{"datum":-4,"type":"quantitative"},"y":{"datum":-1.5,"type":"quantitative"}}},
{"data":{"name":"months"},"transform":[{"filter":"datum.t==1"}],"mark":{"type":"text","style":"mn"},"encoding":{"x":{"field":"m","type":"quantitative"},"y":{"datum":-1.5,"type":"quantitative"},"text":{"field":"n"}}},
{"data":{"name":"d5"},"mark":{"type":"rule","color":"black","strokeWidth":1},"encoding":{"x":{"field":"d","type":"quantitative"},"y":{"datum":-0.5,"type":"quantitative"},"y2":{"datum":15.5}}},
{"data":{"name":"vb"},"mark":{"type":"rule","color":"black","strokeWidth":2.5,"clip":true},"encoding":{"x":{"field":"d","type":"quantitative"},"y":{"datum":-2.5,"type":"quantitative"},"y2":{"datum":15.5}}},
{"data":{"name":"hb"},"mark":{"type":"rule","color":"black","strokeWidth":2,"clip":true},"encoding":{"y":{"field":"d","type":"quantitative"}}}
]},
{"width":512,"height":144,"layer":[
{"data":{"values":[{}]},"mark":{"type":"rect","fill":"white"},"encoding":{"x":{"datum":-8,"type":"quantitative","scale":{"domain":[-8,120],"nice":false,"zero":false},"axis":{"title":null}},"x2":{"datum":120},"y":{"datum":-2.5,"type":"quantitative","scale":{"domain":[-2.5,15.5],"nice":false,"zero":false,"reverse":true},"axis":{"title":null}},"y2":{"datum":-0.5}}},
{"data":{"name":"bars"},"transform":[{"filter":"datum.yr==2032&&datum.t==1&&!datum.h"},{"lookup":"p","from":{"data":{"name":"planets"},"key":"p","fields":["i"]}}],"mark":{"type":"bar","height":8,"strokeWidth":1},"encoding":{"x":{"field":"s","type":"quantitative"},"x2":{"field":"e"},"y":{"field":"i","type":"quantitative"},"fill":{"field":"c","type":"nominal","scale":{"domain":["Y","R","P","B"],"range":["#ffff99","#ff0000","#800080","#99ccff"]},"legend":null},"stroke":{"condition":{"test":"datum.c=='Y'","value":"black"},"value":"transparent"}}},
{"data":{"name":"bars"},"transform":[{"filter":"datum.yr==2032&&datum.t==1&&datum.h=='t'"},{"lookup":"p","from":{"data":{"name":"planets"},"key":"p","fields":["i"]}}],"mark":{"type":"bar","height":3,"yOffset":-2.5},"encoding":{"x":{"field":"s","type":"quantitative"},"x2":{"field":"e"},"y":{"field":"i","type":"quantitative"},"fill":{"field":"c","type":"nominal","scale":{"domain":["Y","R","P","B"],"range":["#ffff99","#ff0000","#800080","#99ccff"]},"legend":null}}},
{"data":{"name":"planets"},"mark":{"type":"bar","height":8},"encoding":{"x":{"datum":-8,"type":"quantitative"},"x2":{"datum":0},"y":{"field":"i","type":"quantitative"},"fill":{"field":"k","type":"nominal","scale":{"domain":["Y","R","P","B"],"range":["#ffff99","#ff0000","#800080","#99ccff"]},"legend":null}}},
{"data":{"name":"planets"},"mark":{"type":"text","style":"pl"},"encoding":{"x":{"datum":-4,"type":"quantitative"},"y":{"field":"i","type":"quantitative"},"text":{"field":"p"},"fill":{"condition":{"test":"datum.k=='R'||datum.k=='P'","value":"white"},"value":"black"}}},
{"data":{"values":[{}]},"mark":{"type":"text","style":"yr","text":"2032"},"encoding":{"x":{"datum":-4,"type":"quantitative"},"y":{"datum":-1.5,"type":"quantitative"}}},
{"data":{"name":"months"},"transform":[{"filter":"datum.t==1"}],"mark":{"type":"text","style":"mn"},"encoding":{"x":{"field":"m","type":"quantitative"},"y":{"datum":-1.5,"type":"quantitative"},"text":{"field":"n"}}},
{"data":{"name":"d5"},"mark":{"type":"rule","color":"black","strokeWidth":1},"encoding":{"x":{"field":"d","type":"quantitative"},"y":{"datum":-0.5,"type":"quantitative"},"y2":{"datum":15.5}}},
{"data":{"name":"vb"},"mark":{"type":"rule","color":"black","strokeWidth":2.5,"clip":true},"encoding":{"x":{"field":"d","type":"quantitative"},"y":{"datum":-2.5,"type":"quantitative"},"y2":{"datum":15.5}}},
{"data":{"name":"hb"},"mark":{"type":"rule","color":"black","strokeWidth":2,"clip":true},"encoding":{"y":{"field":"d","type":"quantitative"}}}
]},
{"width":512,"height":144,"layer":[
{"data":{"values":[{}]},"mark":{"type":"rect","fill":"white"},"encoding":{"x":{"datum":-8,"type":"quantitative","scale":{"domain":[-8,120],"nice":false,"zero":false},"axis":{"title":null}},"x2":{"datum":120},"y":{"datum":-2.5,"type":"quantitative","scale":{"domain":[-2.5,15.5],"nice":false,"zero":false,"reverse":true},"axis":{"title":null}},"y2":{"datum":-0.5}}},
{"data":{"name":"bars"},"transform":[{"filter":"datum.yr==2030&&datum.t==2&&!datum.h"},{"lookup":"p","from":{"data":{"name":"planets"},"key":"p","fields":["i"]}}],"mark":{"type":"bar","height":8,"strokeWidth":1},"encoding":{"x":{"field":"s","type":"quantitative"},"x2":{"field":"e"},"y":{"field":"i","type":"quantitative"},"fill":{"field":"c","type":"nominal","scale":{"domain":["Y","R","P","B"],"range":["#ffff99","#ff0000","#800080","#99ccff"]},"legend":null},"stroke":{"condition":{"test":"datum.c=='Y'","value":"black"},"value":"transparent"}}},
{"data":{"name":"planets"},"mark":{"type":"bar","height":8},"encoding":{"x":{"datum":-8,"type":"quantitative"},"x2":{"datum":0},"y":{"field":"i","type":"quantitative"},"fill":{"field":"k","type":"nominal","scale":{"domain":["Y","R","P","B"],"range":["#ffff99","#ff0000","#800080","#99ccff"]},"legend":null}}},
{"data":{"name":"planets"},"mark":{"type":"text","style":"pl"},"encoding":{"x":{"datum":-4,"type":"quantitative"},"y":{"field":"i","type":"quantitative"},"text":{"field":"p"},"fill":{"condition":{"test":"datum.k=='R'||datum.k=='P'","value":"white"},"value":"black"}}},
{"data":{"values":[{}]},"mark":{"type":"text","style":"yr","text":"2030"},"encoding":{"x":{"datum":-4,"type":"quantitative"},"y":{"datum":-1.5,"type":"quantitative"}}},
{"data":{"name":"months"},"transform":[{"filter":"datum.t==2"}],"mark":{"type":"text","style":"mn"},"encoding":{"x":{"field":"m","type":"quantitative"},"y":{"datum":-1.5,"type":"quantitative"},"text":{"field":"n"}}},
{"data":{"name":"d5"},"mark":{"type":"rule","color":"black","strokeWidth":1},"encoding":{"x":{"field":"d","type":"quantitative"},"y":{"datum":-0.5,"type":"quantitative"},"y2":{"datum":15.5}}},
{"data":{"name":"vb"},"mark":{"type":"rule","color":"black","strokeWidth":2.5,"clip":true},"encoding":{"x":{"field":"d","type":"quantitative"},"y":{"datum":-2.5,"type":"quantitative"},"y2":{"datum":15.5}}},
{"data":{"name":"hb"},"mark":{"type":"rule","color":"black","strokeWidth":2,"clip":true},"encoding":{"y":{"field":"d","type":"quantitative"}}}
]},
{"width":512,"height":144,"layer":[
{"data":{"values":[{}]},"mark":{"type":"rect","fill":"white"},"encoding":{"x":{"datum":-8,"type":"quantitative","scale":{"domain":[-8,120],"nice":false,"zero":false},"axis":{"title":null}},"x2":{"datum":120},"y":{"datum":-2.5,"type":"quantitative","scale":{"domain":[-2.5,15.5],"nice":false,"zero":false,"reverse":true},"axis":{"title":null}},"y2":{"datum":-0.5}}},
{"data":{"name":"bars"},"transform":[{"filter":"datum.yr==2032&&datum.t==2&&!datum.h"},{"lookup":"p","from":{"data":{"name":"planets"},"key":"p","fields":["i"]}}],"mark":{"type":"bar","height":8,"strokeWidth":1},"encoding":{"x":{"field":"s","type":"quantitative"},"x2":{"field":"e"},"y":{"field":"i","type":"quantitative"},"fill":{"field":"c","type":"nominal","scale":{"domain":["Y","R","P","B"],"range":["#ffff99","#ff0000","#800080","#99ccff"]},"legend":null},"stroke":{"condition":{"test":"datum.c=='Y'","value":"black"},"value":"transparent"}}},
{"data":{"name":"planets"},"mark":{"type":"bar","height":8},"encoding":{"x":{"datum":-8,"type":"quantitative"},"x2":{"datum":0},"y":{"field":"i","type":"quantitative"},"fill":{"field":"k","type":"nominal","scale":{"domain":["Y","R","P","B"],"range":["#ffff99","#ff0000","#800080","#99ccff"]},"legend":null}}},
{"data":{"name":"planets"},"mark":{"type":"text","style":"pl"},"encoding":{"x":{"datum":-4,"type":"quantitative"},"y":{"field":"i","type":"quantitative"},"text":{"field":"p"},"fill":{"condition":{"test":"datum.k=='R'||datum.k=='P'","value":"white"},"value":"black"}}},
{"data":{"values":[{}]},"mark":{"type":"text","style":"yr","text":"2032"},"encoding":{"x":{"datum":-4,"type":"quantitative"},"y":{"datum":-1.5,"type":"quantitative"}}},
{"data":{"name":"months"},"transform":[{"filter":"datum.t==2"}],"mark":{"type":"text","style":"mn"},"encoding":{"x":{"field":"m","type":"quantitative"},"y":{"datum":-1.5,"type":"quantitative"},"text":{"field":"n"}}},
{"data":{"name":"d5"},"mark":{"type":"rule","color":"black","strokeWidth":1},"encoding":{"x":{"field":"d","type":"quantitative"},"y":{"datum":-0.5,"type":"quantitative"},"y2":{"datum":15.5}}},
{"data":{"name":"vb"},"mark":{"type":"rule","color":"black","strokeWidth":2.5,"clip":true},"encoding":{"x":{"field":"d","type":"quantitative"},"y":{"datum":-2.5,"type":"quantitative"},"y2":{"datum":15.5}}},
{"data":{"name":"hb"},"mark":{"type":"rule","color":"black","strokeWidth":2,"clip":true},"encoding":{"y":{"field":"d","type":"quantitative"}}}
]},
{"width":512,"height":144,"layer":[
{"data":{"values":[{}]},"mark":{"type":"rect","fill":"white"},"encoding":{"x":{"datum":-8,"type":"quantitative","scale":{"domain":[-8,120],"nice":false,"zero":false},"axis":{"title":null}},"x2":{"datum":120},"y":{"datum":-2.5,"type":"quantitative","scale":{"domain":[-2.5,15.5],"nice":false,"zero":false,"reverse":true},"axis":{"title":null}},"y2":{"datum":-0.5}}},
{"data":{"name":"bars"},"transform":[{"filter":"datum.yr==2030&&datum.t==3&&!datum.h"},{"lookup":"p","from":{"data":{"name":"planets"},"key":"p","fields":["i"]}}],"mark":{"type":"bar","height":8,"strokeWidth":1},"encoding":{"x":{"field":"s","type":"quantitative"},"x2":{"field":"e"},"y":{"field":"i","type":"quantitative"},"fill":{"field":"c","type":"nominal","scale":{"domain":["Y","R","P","B"],"range":["#ffff99","#ff0000","#800080","#99ccff"]},"legend":null},"stroke":{"condition":{"test":"datum.c=='Y'","value":"black"},"value":"transparent"}}},
{"data":{"name":"planets"},"mark":{"type":"bar","height":8},"encoding":{"x":{"datum":-8,"type":"quantitative"},"x2":{"datum":0},"y":{"field":"i","type":"quantitative"},"fill":{"field":"k","type":"nominal","scale":{"domain":["Y","R","P","B"],"range":["#ffff99","#ff0000","#800080","#99ccff"]},"legend":null}}},
{"data":{"name":"planets"},"mark":{"type":"text","style":"pl"},"encoding":{"x":{"datum":-4,"type":"quantitative"},"y":{"field":"i","type":"quantitative"},"text":{"field":"p"},"fill":{"condition":{"test":"datum.k=='R'||datum.k=='P'","value":"white"},"value":"black"}}},
{"data":{"values":[{}]},"mark":{"type":"text","style":"yr","text":"2030"},"encoding":{"x":{"datum":-4,"type":"quantitative"},"y":{"datum":-1.5,"type":"quantitative"}}},
{"data":{"name":"months"},"transform":[{"filter":"datum.t==3"}],"mark":{"type":"text","style":"mn"},"encoding":{"x":{"field":"m","type":"quantitative"},"y":{"datum":-1.5,"type":"quantitative"},"text":{"field":"n"}}},
{"data":{"name":"d5"},"mark":{"type":"rule","color":"black","strokeWidth":1},"encoding":{"x":{"field":"d","type":"quantitative"},"y":{"datum":-0.5,"type":"quantitative"},"y2":{"datum":15.5}}},
{"data":{"name":"vb"},"mark":{"type":"rule","color":"black","strokeWidth":2.5,"clip":true},"encoding":{"x":{"field":"d","type":"quantitative"},"y":{"datum":-2.5,"type":"quantitative"},"y2":{"datum":15.5}}},
{"data":{"name":"hb"},"mark":{"type":"rule","color":"black","strokeWidth":2,"clip":true},"encoding":{"y":{"field":"d","type":"quantitative"}}}
]},
{"width":512,"height":144,"layer":[
{"data":{"values":[{}]},"mark":{"type":"rect","fill":"white"},"encoding":{"x":{"datum":-8,"type":"quantitative","scale":{"domain":[-8,120],"nice":false,"zero":false},"axis":{"title":null}},"x2":{"datum":120},"y":{"datum":-2.5,"type":"quantitative","scale":{"domain":[-2.5,15.5],"nice":false,"zero":false,"reverse":true},"axis":{"title":null}},"y2":{"datum":-0.5}}},
{"data":{"name":"bars"},"transform":[{"filter":"datum.yr==2032&&datum.t==3&&!datum.h"},{"lookup":"p","from":{"data":{"name":"planets"},"key":"p","fields":["i"]}}],"mark":{"type":"bar","height":8,"strokeWidth":1},"encoding":{"x":{"field":"s","type":"quantitative"},"x2":{"field":"e"},"y":{"field":"i","type":"quantitative"},"fill":{"field":"c","type":"nominal","scale":{"domain":["Y","R","P","B"],"range":["#ffff99","#ff0000","#800080","#99ccff"]},"legend":null},"stroke":{"condition":{"test":"datum.c=='Y'","value":"black"},"value":"transparent"}}},
{"data":{"name":"planets"},"mark":{"type":"bar","height":8},"encoding":{"x":{"datum":-8,"type":"quantitative"},"x2":{"datum":0},"y":{"field":"i","type":"quantitative"},"fill":{"field":"k","type":"nominal","scale":{"domain":["Y","R","P","B"],"range":["#ffff99","#ff0000","#800080","#99ccff"]},"legend":null}}},
{"data":{"name":"planets"},"mark":{"type":"text","style":"pl"},"encoding":{"x":{"datum":-4,"type":"quantitative"},"y":{"field":"i","type":"quantitative"},"text":{"field":"p"},"fill":{"condition":{"test":"datum.k=='R'||datum.k=='P'","value":"white"},"value":"black"}}},
{"data":{"values":[{}]},"mark":{"type":"text","style":"yr","text":"2032"},"encoding":{"x":{"datum":-4,"type":"quantitative"},"y":{"datum":-1.5,"type":"quantitative"}}},
{"data":{"name":"months"},"transform":[{"filter":"datum.t==3"}],"mark":{"type":"text","style":"mn"},"encoding":{"x":{"field":"m","type":"quantitative"},"y":{"datum":-1.5,"type":"quantitative"},"text":{"field":"n"}}},
{"data":{"name":"d5"},"mark":{"type":"rule","color":"black","strokeWidth":1},"encoding":{"x":{"field":"d","type":"quantitative"},"y":{"datum":-0.5,"type":"quantitative"},"y2":{"datum":15.5}}},
{"data":{"name":"vb"},"mark":{"type":"rule","color":"black","strokeWidth":2.5,"clip":true},"encoding":{"x":{"field":"d","type":"quantitative"},"y":{"datum":-2.5,"type":"quantitative"},"y2":{"datum":15.5}}},
{"data":{"name":"hb"},"mark":{"type":"rule","color":"black","strokeWidth":2,"clip":true},"encoding":{"y":{"field":"d","type":"quantitative"}}}
]}
],
"config":{
"view":{"stroke":null},
"axis":{"grid":true,"labels":false,"ticks":false,"domain":false,"gridColor":"#c0c0c0","gridOpacity":1,"gridWidth":1},
"axisX":{"tickCount":128},
"axisY":{"tickCount":36},
"style":{
"pl":{"font":"DejaVu Sans Mono","fontSize":7.5,"fontWeight":"bold","baseline":"middle","align":"center","limit":31,"ellipsis":" "},
"yr":{"font":"DejaVu Sans Mono","fontSize":10.5,"fontWeight":"bold","baseline":"middle","align":"center","color":"black"},
"mn":{"font":"DejaVu Sans Mono","fontSize":10.3,"fontWeight":"bold","baseline":"middle","align":"center","color":"black"},
"nt":{"font":"DejaVu Sans Mono","fontSize":7,"fontWeight":"bold","baseline":"middle","align":"left","dx":3,"color":"black"}
}
}
}
